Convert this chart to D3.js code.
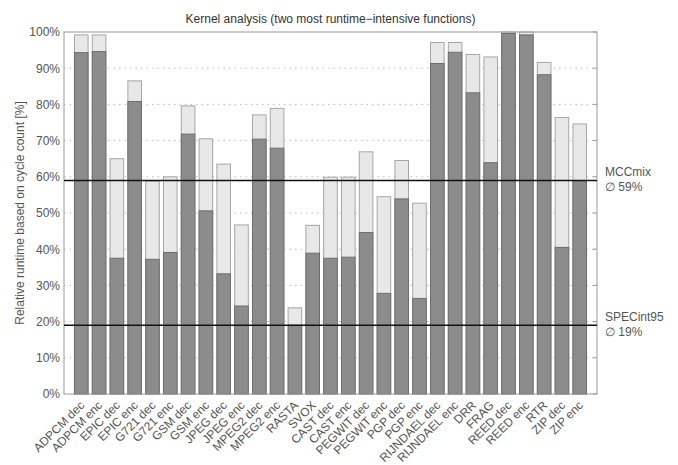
<!DOCTYPE html>
<html>
<head>
<meta charset="utf-8">
<script src="https://cdn.jsdelivr.net/npm/d3@7"></script>
<style>
  body { margin: 0; background: #fff; }
  text { font-family: "Liberation Sans", Arial, sans-serif; }
</style>
</head>
<body>
<svg id="chart" width="678" height="465"></svg>
<script>
const kernels = [
  "ADPCM dec", "ADPCM enc", "EPIC dec", "EPIC enc", "G721 dec", "G721 enc",
  "GSM dec", "GSM enc", "JPEG dec", "JPEG enc", "MPEG2 dec", "MPEG2 enc",
  "RASTA", "SVOX", "CAST dec", "CAST enc", "PEGWIT dec", "PEGWIT enc",
  "PGP dec", "PGP enc", "RIJNDAEL dec", "RIJNDAEL enc", "DRR", "FRAG",
  "REED dec", "REED enc", "RTR", "ZIP dec", "ZIP enc"
];
// share of the most intensive function
const firstFn = [
  94.3, 94.6, 37.5, 80.8, 37.2, 39.1, 71.8, 50.6, 33.2, 24.3, 70.4, 67.9,
  19.0, 38.9, 37.5, 37.8, 44.6, 27.8, 53.9, 26.4, 91.3, 94.4, 83.2, 63.9,
  99.6, 99.2, 88.2, 40.5, 58.9
];
// share of the two most intensive functions together
const twoFn = [
  99.2, 99.2, 65.0, 86.5, 58.8, 60.0, 79.6, 70.5, 63.5, 46.7, 77.1, 78.9,
  23.8, 46.6, 59.9, 59.9, 66.9, 54.5, 64.5, 52.7, 97.1, 97.1, 93.8, 93.1,
  100, 100, 91.6, 76.4, 74.6
];
const refNames = ["MCCmix", "SPECint95"];
const refValues = [59, 19];
const yTicks = [0, 10, 20, 30, 40, 50, 60, 70, 80, 90, 100];

const svg = d3.select("#chart");
const plotLeft = 64, plotRight = 597, plotTop = 32, plotBottom = 394;
const textColor = "#555";

const x = d3.scaleBand().domain(kernels).range([plotLeft, plotRight])
  .paddingInner(0.18).paddingOuter(0.56);
const y = d3.scaleLinear().domain([0, 100]).range([plotBottom, plotTop]);

// dotted grid
svg.append("g")
  .selectAll("line")
  .data(yTicks.filter(d => d > 0 && d < 100))
  .enter()
  .append("line")
  .attr("x1", plotLeft).attr("x2", plotRight)
  .attr("y1", d => y(d)).attr("y2", d => y(d))
  .attr("stroke", "#bbb")
  .attr("stroke-dasharray", "1.5,4");

// right side inner ticks
svg.append("g")
  .selectAll("line")
  .data(yTicks)
  .enter()
  .append("line")
  .attr("x1", plotRight - 4).attr("x2", plotRight)
  .attr("y1", d => y(d)).attr("y2", d => y(d))
  .attr("stroke", "#999");

// two functions (light) bars
svg.append("g")
  .selectAll("rect")
  .data(kernels)
  .enter()
  .append("rect")
  .attr("x", d => x(d) + 0.5)
  .attr("y", (d, i) => y(twoFn[i]))
  .attr("width", x.bandwidth() - 1)
  .attr("height", (d, i) => plotBottom - y(twoFn[i]))
  .attr("fill", "#e8e8e8")
  .attr("stroke", "#a6a6a6")
  .attr("stroke-width", 1);

// first function (dark) bars
svg.append("g")
  .selectAll("rect")
  .data(kernels)
  .enter()
  .append("rect")
  .attr("x", d => x(d) + 0.5)
  .attr("y", (d, i) => y(firstFn[i]))
  .attr("width", x.bandwidth() - 1)
  .attr("height", (d, i) => plotBottom - y(firstFn[i]))
  .attr("fill", "#8c8c8c")
  .attr("stroke", "#6e6e6e")
  .attr("stroke-width", 1);

// plot frame
svg.append("rect")
  .attr("x", plotLeft).attr("y", plotTop)
  .attr("width", plotRight - plotLeft).attr("height", plotBottom - plotTop)
  .attr("fill", "none")
  .attr("stroke", "#999");

// reference lines
svg.append("g")
  .selectAll("line")
  .data(refValues)
  .enter()
  .append("line")
  .attr("x1", plotLeft).attr("x2", plotRight)
  .attr("y1", d => y(d)).attr("y2", d => y(d))
  .attr("stroke", "#111")
  .attr("stroke-width", 1.5);

refNames.forEach((name, i) => {
  const yy = y(refValues[i]);
  svg.append("text")
    .attr("x", 605).attr("y", yy - 4)
    .attr("font-size", "12px").attr("fill", textColor)
    .text(name);
  svg.append("text")
    .attr("x", 605).attr("y", yy + 11)
    .attr("font-size", "12px").attr("fill", textColor)
    .text("\u2205 " + refValues[i] + "%");
});

// y axis labels
const yAxis = d3.axisLeft(y).tickValues(yTicks).tickSize(0).tickPadding(4)
  .tickFormat(d => d + "%");
svg.append("g")
  .attr("transform", "translate(" + plotLeft + ",0)")
  .call(yAxis)
  .call(g => g.select(".domain").remove())
  .call(g => g.selectAll("text")
    .attr("font-size", "12px")
    .attr("fill", textColor)
    .style("font-family", "Liberation Sans, Arial, sans-serif"));

// x axis labels
const xAxis = d3.axisBottom(x).tickSize(0).tickPadding(0);
svg.append("g")
  .attr("transform", "translate(0," + plotBottom + ")")
  .call(xAxis)
  .call(g => g.select(".domain").remove())
  .call(g => g.selectAll("text")
    .attr("font-size", "12px")
    .attr("fill", textColor)
    .style("font-family", "Liberation Sans, Arial, sans-serif")
    .attr("text-anchor", "end")
    .attr("dy", "0")
    .attr("transform", "translate(4,12) rotate(-45)"));

// title
svg.append("text")
  .attr("x", (plotLeft + plotRight) / 2).attr("y", 23)
  .attr("text-anchor", "middle")
  .attr("font-size", "12px").attr("fill", "#333")
  .text("Kernel analysis (two most runtime\u2212intensive functions)");

// y axis title
svg.append("text")
  .attr("transform", "translate(24," + (plotTop + plotBottom) / 2 + ") rotate(-90)")
  .attr("text-anchor", "middle")
  .attr("font-size", "12px").attr("fill", textColor)
  .text("Relative runtime based on cycle count [%]");
</script>
</body>
</html>
